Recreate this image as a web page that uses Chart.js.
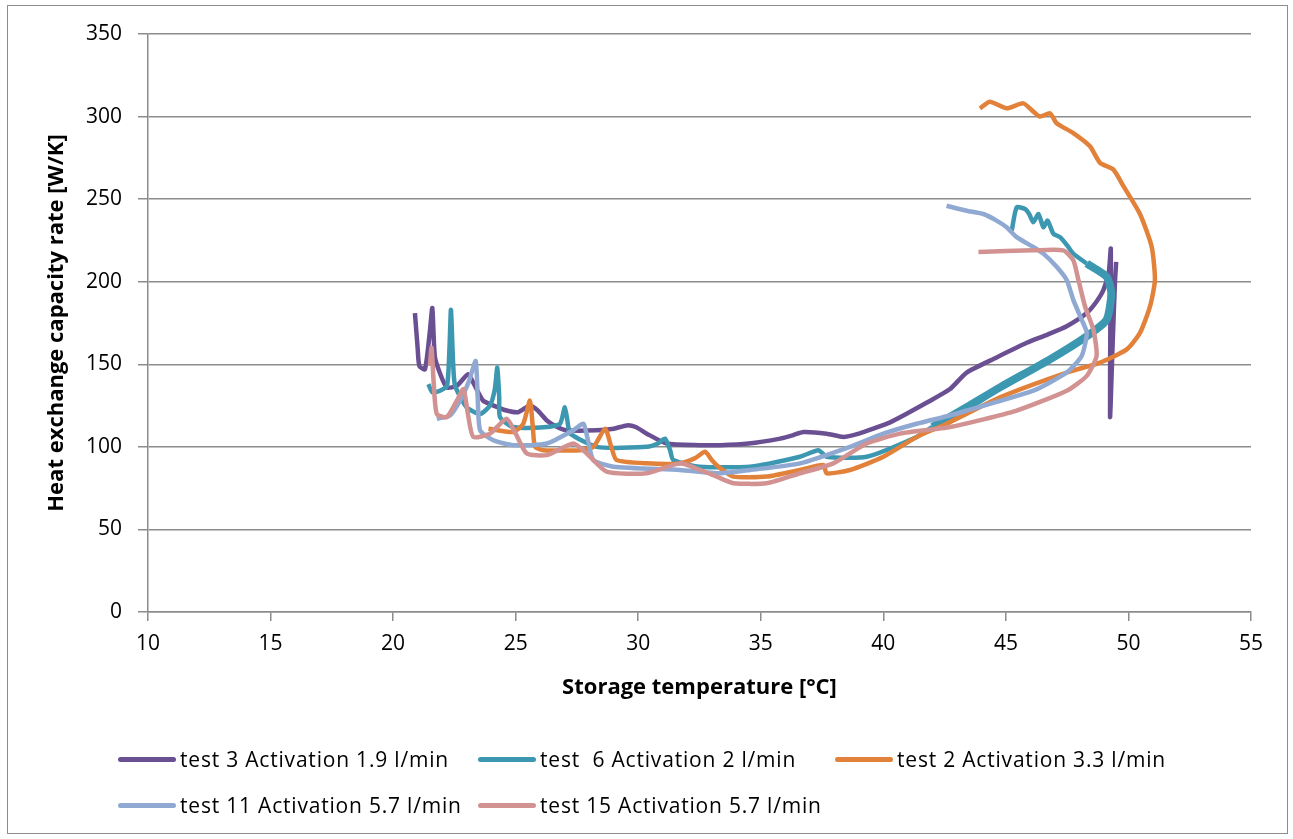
<!DOCTYPE html>
<html>
<head>
<meta charset="utf-8">
<script src="https://cdn.jsdelivr.net/npm/chart.js@4"></script>
<style>
    html, body { margin: 0; padding: 0; background: #fff; }
    #wrap { position: relative; width: 1293px; height: 839px; }
    #frame { position: absolute; left: 7px; top: 5px; width: 1281px; height: 829px; border: 1.5px solid #8c8c8c; box-sizing: border-box; pointer-events: none; }
    canvas { position: absolute; left: 0; top: 0; }
    #legend { position: absolute; left: 118px; top: 745px; width: 1100px; font-family: "Open Sans", sans-serif; font-size: 21px; letter-spacing: 0.8px; color: #000; }
    .item { position: absolute; display: flex; align-items: center; white-space: pre; }
    .swatch { width: 58px; height: 5px; border-radius: 3px; margin-right: 4px; }
</style>
</head>
<body>
<div id="wrap">
    <canvas id="chart" width="1293" height="839"></canvas>
    <div id="legend"></div>
    <div id="frame"></div>
</div>
<script>
// Series names
const nombres = [
    'test 3 Activation 1.9 l/min',
    'test  6 Activation 2 l/min',
    'test 2 Activation 3.3 l/min',
    'test 11 Activation 5.7 l/min',
    'test 15 Activation 5.7 l/min'
];

const colores = ['#6b4f93', '#3c97b0', '#e2823a', '#8fa9d3', '#d29292'];

// test 3 - Activation 1.9 l/min
const test3X = [20.89, 21.0, 21.07, 21.3, 21.5, 21.6, 21.7, 21.9, 22.19, 22.6, 23.06, 23.3, 23.67, 24.1, 24.63, 25.1, 25.58, 25.9, 26.27, 26.7, 27.08, 28.3, 29.0, 29.53, 29.9, 30.35, 31.16, 32.5, 33.34, 34.5, 35.79, 36.3, 36.74, 37.69, 38.37, 39.0, 39.59, 40.3, 40.95, 41.8, 42.72, 43.4, 44.6, 45.85, 46.7, 47.48, 48.3, 48.7, 48.98, 49.2, 49.28, 49.26, 49.25, 49.35, 49.45, 49.5];
const test3Y = [181, 160, 149, 147, 170, 184, 155, 145, 136, 137, 144, 138, 128, 125, 122, 121, 125, 122, 116, 112, 110, 110, 111, 113, 112, 108, 102, 101, 101, 102, 105, 107, 109, 108, 106, 108, 111, 115, 120, 127, 135, 145, 154, 163, 168, 173, 181, 188, 195, 206, 220, 170, 118, 160, 200, 212];

// test 6 - Activation 2 l/min
const test6X = [21.44, 21.6, 21.91, 22.2, 22.3, 22.36, 22.45, 22.53, 23.0, 23.55, 23.95, 24.15, 24.25, 24.33, 24.36, 24.9, 26.26, 26.81, 27.01, 27.15, 27.22, 28.3, 30.35, 30.8, 31.09, 31.3, 31.43, 32.5, 34.56, 36.6, 37.35, 37.69, 39.32, 41.36, 42.0, 43.4, 44.76, 46.8, 48.3, 49.11, 49.3, 49.11, 48.3, 47.75, 47.5, 47.21, 46.94, 46.7, 46.53, 46.33, 46.12, 45.95, 45.78, 45.44, 45.24];
const test6Y = [138, 133, 134, 137, 160, 183, 150, 137, 124, 120, 125, 135, 148, 130, 118, 112, 112, 114, 124, 112, 108, 100, 100, 102, 105, 98, 92, 88, 88, 94, 98, 94, 94, 106, 112, 124, 136, 153, 167, 177, 193, 203, 211, 217, 222, 227, 229, 237, 233, 241, 236, 241, 244, 245, 231];

// test 2 - Activation 3.3 l/min
const test2X = [23.89, 24.9, 25.31, 25.58, 25.7, 25.79, 26.13, 27.63, 28.17, 28.65, 28.9, 29.12, 30.35, 31.7, 32.3, 32.73, 33.0, 33.27, 33.88, 35.24, 36.6, 37.55, 37.69, 38.64, 40.0, 41.36, 42.58, 44.76, 47.48, 48.84, 49.93, 50.47, 50.88, 51.08, 50.95, 50.47, 49.79, 49.38, 48.84, 48.43, 47.75, 47.07, 46.8, 46.39, 46.12, 45.71, 45.03, 44.35, 43.94];
const test2Y = [111, 109, 114, 128, 112, 100, 98, 98, 100, 111, 100, 92, 90, 90, 93, 97, 92, 88, 82, 82, 86, 89, 84, 86, 94, 106, 114, 130, 145, 151, 159, 169, 185, 201, 221, 241, 258, 268, 272, 282, 290, 296, 302, 300, 303, 308, 305, 309, 305];

// test 11 - Activation 5.7 l/min
const test11X = [21.78, 22.32, 22.73, 23.1, 23.37, 23.45, 23.55, 24.09, 24.9, 26.27, 27.35, 27.76, 27.95, 28.17, 28.99, 31.7, 33.34, 34.56, 36.6, 38.64, 40.0, 41.36, 42.72, 43.4, 46.12, 47.48, 48.09, 48.3, 48.09, 47.75, 47.48, 47.07, 46.53, 46.12, 45.44, 45.03, 44.62, 44.08, 43.4, 42.58];
const test11Y = [117, 119, 128, 140, 152, 130, 110, 104, 101, 102, 110, 114, 104, 92, 88, 86, 84, 86, 90, 100, 108, 114, 119, 122, 134, 145, 155, 169, 177, 189, 201, 209, 217, 221, 227, 233, 237, 241, 243, 246];

// test 15 - Activation 5.7 l/min
const test15X = [21.5, 21.57, 21.65, 21.78, 22.19, 22.6, 22.87, 23.05, 23.27, 23.95, 24.63, 25.0, 25.45, 26.27, 27.35, 27.9, 28.71, 30.35, 31.7, 32.52, 33.2, 33.88, 35.24, 36.6, 37.96, 39.32, 40.68, 42.72, 45.44, 47.48, 48.3, 48.7, 48.57, 48.23, 47.96, 47.75, 47.34, 46.12, 43.88];
const test15Y = [149, 160, 140, 120, 118, 128, 135, 120, 106, 108, 117, 108, 96, 95, 102, 96, 85, 84, 90, 86, 82, 78, 78, 84, 90, 102, 108, 112, 122, 134, 143, 155, 171, 185, 201, 213, 219, 219, 218];

const yTicks = [0, 50, 100, 150, 200, 250, 300, 350];
const xTicks = [10, 15, 20, 25, 30, 35, 40, 45, 50, 55];

const seriesX = [test3X, test6X, test2X, test11X, test15X];
const seriesY = [test3Y, test6Y, test2Y, test11Y, test15Y];

function puntos(xs, ys) {
    return xs.map((x, i) => ({ x: x, y: ys[i] }));
}

const datasets = nombres.map((nombre, i) => ({
    label: nombre,
    data: puntos(seriesX[i], seriesY[i]),
    borderColor: colores[i],
    backgroundColor: colores[i],
    borderWidth: 4.5,
    pointRadius: 0,
    showLine: true,
    tension: 0.2,
    order: nombres.length - i,
    // banda gruesa del test 6 (zona de calentamiento)
    segment: i === 1 ? {
        borderWidth: ctx => (ctx.p0.parsed.x > 41.5 && ctx.p0.parsed.y < 212 && ctx.p1.parsed.y < 212) ? 8 : 4.5
    } : undefined
}));

const fuente = 'Open Sans';

const chart = new Chart(document.getElementById('chart').getContext('2d'), {
    type: 'scatter',
    data: { datasets: datasets },
    options: {
        responsive: false,
        animation: false,
        layout: { padding: { left: 0, right: 42, top: 34, bottom: 127 } },
        plugins: {
            legend: { display: false },
            tooltip: { enabled: false }
        },
        scales: {
            x: {
                type: 'linear',
                min: 10,
                max: 55,
                afterBuildTicks: axis => { axis.ticks = xTicks.map(v => ({ value: v })); },
                afterFit: axis => { axis.height = 100; },
                grid: { drawOnChartArea: false, drawTicks: true, tickLength: 9, color: '#8c8c8c', lineWidth: 1.5 },
                border: { display: true, color: '#8c8c8c', width: 1.5 },
                ticks: { color: '#000', font: { family: fuente, size: 21 }, padding: 10, maxRotation: 0 },
                title: {
                    display: true,
                    text: 'Storage temperature [°C]',
                    color: '#000',
                    font: { family: fuente, size: 22, weight: 'bold' },
                    padding: { top: 0, bottom: 11 }
                }
            },
            y: {
                type: 'linear',
                min: 0,
                max: 350,
                afterBuildTicks: axis => { axis.ticks = yTicks.map(v => ({ value: v })); },
                afterFit: axis => { axis.width = 148; },
                grid: { drawOnChartArea: true, drawTicks: true, tickLength: 10, color: '#8c8c8c', lineWidth: 1.5 },
                border: { display: true, color: '#8c8c8c', width: 1.5 },
                ticks: { color: '#000', font: { family: fuente, size: 21 }, padding: 16 },
                title: {
                    display: true,
                    text: 'Heat exchange capacity rate [W/K]',
                    color: '#000',
                    font: { family: fuente, size: 22, weight: 'bold' },
                    padding: { top: 44, bottom: 0 }
                }
            }
        }
    }
});

// Leyenda en cuadrícula como en el original
const posiciones = [[0, 0], [360, 0], [717, 0], [0, 46], [360, 46]];
const legend = document.getElementById('legend');
chart.data.datasets.forEach((ds, i) => {
    const item = document.createElement('div');
    item.className = 'item';
    item.style.left = posiciones[i][0] + 'px';
    item.style.top = posiciones[i][1] + 'px';
    item.innerHTML = `<span class="swatch" style="background:${ds.borderColor}"></span><span>${ds.label}</span>`;
    legend.appendChild(item);
});
</script>
</body>
</html>
